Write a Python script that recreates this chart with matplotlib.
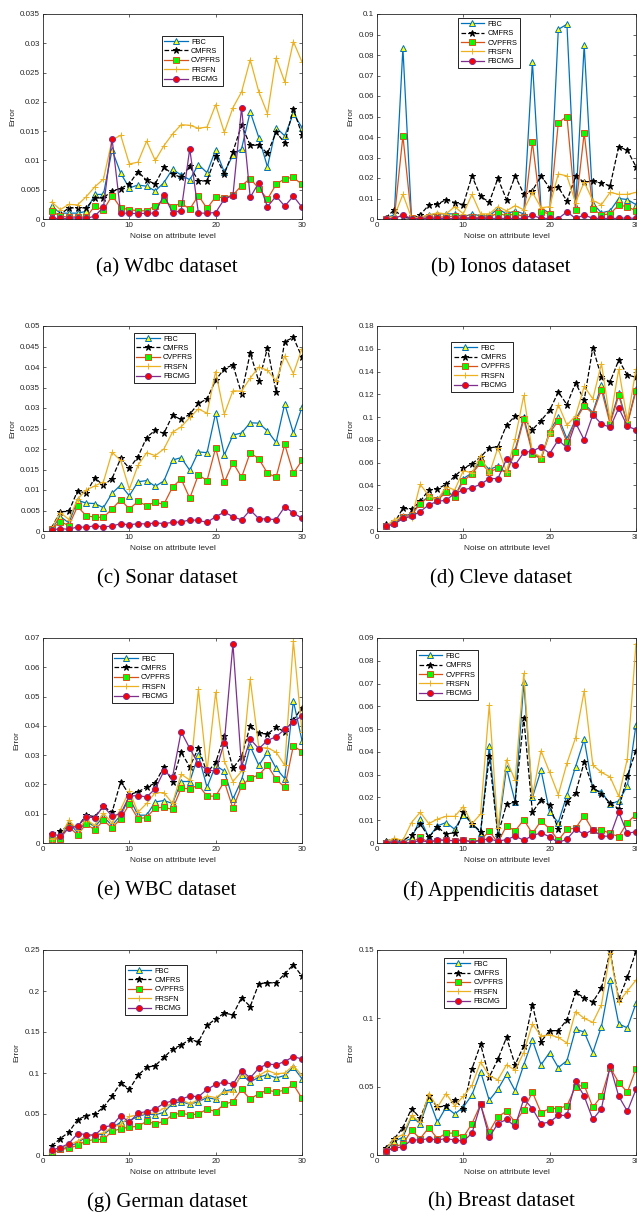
import numpy as np
import matplotlib
matplotlib.use('Agg')
import matplotlib.pyplot as plt
from matplotlib.ticker import FuncFormatter

# noise levels on the x axis
levels = np.arange(1, 31)
methods = ['FBC', 'CMFRS', 'CVPFRS', 'FRSFN', 'FBCMG']

# (a) Wdbc
wdbc_fbc = [0.0022, 0.001, 0.001, 0.001, 0.0013, 0.0042, 0.0042, 0.0118, 0.0078, 0.0053, 0.0058, 0.0056, 0.0048, 0.0062, 0.0085,
            0.0075, 0.0067, 0.0093, 0.0079, 0.0118, 0.008, 0.0109, 0.012, 0.0183, 0.0139, 0.0089, 0.0156, 0.0142, 0.018, 0.0156]
wdbc_cmfrs = [0.0012, 0.0008, 0.0019, 0.0019, 0.0019, 0.0036, 0.0036, 0.0048, 0.0052, 0.006, 0.0081, 0.0066, 0.006, 0.0088, 0.0077,
              0.0071, 0.009, 0.0065, 0.0065, 0.0107, 0.0077, 0.0115, 0.016, 0.0126, 0.0126, 0.0112, 0.0148, 0.013, 0.0188, 0.0144]
wdbc_cvpfrs = [0.0013, 0.0005, 0.0003, 0.0004, 0.0003, 0.0022, 0.0015, 0.004, 0.0019, 0.0016, 0.0014, 0.0014, 0.0023, 0.0032, 0.0021,
               0.0027, 0.0017, 0.004, 0.0018, 0.0038, 0.0036, 0.0041, 0.0057, 0.0069, 0.0052, 0.0034, 0.0059, 0.0069, 0.0071, 0.0059]
wdbc_frsfn = [0.0029, 0.0016, 0.0025, 0.0024, 0.0038, 0.0055, 0.0068, 0.0135, 0.0143, 0.0094, 0.0097, 0.0133, 0.01, 0.0125, 0.0145,
              0.0161, 0.016, 0.0155, 0.0157, 0.0195, 0.0148, 0.019, 0.0217, 0.0272, 0.0217, 0.018, 0.0275, 0.0234, 0.0303, 0.0268]
wdbc_fbcmg = [0.0001, 0.0001, 0.0001, 0.0002, 0.0001, 0.0005, 0.002, 0.0137, 0.001, 0.001, 0.0009, 0.001, 0.001, 0.0041, 0.0011,
              0.0014, 0.012, 0.001, 0.001, 0.0011, 0.0034, 0.004, 0.019, 0.0037, 0.0062, 0.0021, 0.0039, 0.0022, 0.0039, 0.002]

# (b) Ionos
ionos_fbc = [0.0005, 0.002, 0.0835, 0.0005, 0.0005, 0.002, 0.0025, 0.0025, 0.0025, 0.001, 0.0025, 0.0015, 0.0015, 0.005, 0.0025,
             0.004, 0.0025, 0.0767, 0.005, 0.003, 0.0925, 0.095, 0.006, 0.085, 0.0075, 0.003, 0.004, 0.01, 0.0095, 0.007]
ionos_cmfrs = [0.0005, 0.0045, 0.0008, 0.0003, 0.002, 0.0068, 0.0072, 0.0095, 0.008, 0.007, 0.021, 0.011, 0.0082, 0.0198, 0.0095,
               0.021, 0.0123, 0.0138, 0.021, 0.0152, 0.0155, 0.0088, 0.0208, 0.018, 0.0185, 0.0175, 0.0162, 0.0353, 0.0335, 0.0255]
ionos_cvpfrs = [0.0002, 0.0002, 0.0405, 0.0003, 0.0002, 0.0008, 0.001, 0.001, 0.0015, 0.0005, 0.0008, 0.0008, 0.0008, 0.003, 0.0015,
                0.0025, 0.0012, 0.0375, 0.0035, 0.0025, 0.047, 0.05, 0.0045, 0.042, 0.005, 0.002, 0.0025, 0.0068, 0.006, 0.004]
ionos_frsfn = [0.0005, 0.0012, 0.012, 0.0005, 0.0008, 0.002, 0.003, 0.0025, 0.006, 0.0025, 0.012, 0.0025, 0.0025, 0.006, 0.004,
               0.0065, 0.0045, 0.013, 0.0055, 0.006, 0.022, 0.021, 0.008, 0.018, 0.009, 0.007, 0.013, 0.012, 0.012, 0.013]
ionos_fbcmg = [0.0002, 0.0002, 0.002, 0.0002, 0.0002, 0.0003, 0.0003, 0.0003, 0.0003, 0.0003, 0.0003, 0.0003, 0.0003, 0.0003, 0.0003,
               0.0003, 0.0003, 0.0018, 0.0003, 0.0003, 0.0002, 0.0035, 0.0003, 0.002, 0.0003, 0.0003, 0.0003, 0.0003, 0.0005, 0.0003]

# (c) Sonar
sonar_fbc = [0.0005, 0.0035, 0.002, 0.0075, 0.0068, 0.0067, 0.0057, 0.0092, 0.0112, 0.0086, 0.012, 0.0123, 0.0109, 0.0122, 0.0173,
             0.0179, 0.0148, 0.0193, 0.0191, 0.0288, 0.0185, 0.0234, 0.0239, 0.0264, 0.0263, 0.0244, 0.0216, 0.031, 0.0239, 0.0302]
sonar_cmfrs = [0.0008, 0.0047, 0.0048, 0.0098, 0.0092, 0.013, 0.0111, 0.0128, 0.0177, 0.0153, 0.0181, 0.0228, 0.0246, 0.0238, 0.0282,
               0.0272, 0.0285, 0.0311, 0.0322, 0.0368, 0.0396, 0.0405, 0.0335, 0.0434, 0.0365, 0.0446, 0.034, 0.0462, 0.0472, 0.0424]
sonar_cvpfrs = [0.0005, 0.0023, 0.0013, 0.006, 0.0037, 0.0034, 0.0033, 0.0054, 0.0076, 0.0054, 0.0072, 0.0062, 0.007, 0.0065, 0.0107,
                0.0127, 0.008, 0.0137, 0.0123, 0.0203, 0.0119, 0.0167, 0.0131, 0.0191, 0.0176, 0.0141, 0.0131, 0.0211, 0.0141, 0.0172]
sonar_frsfn = [0.0005, 0.0045, 0.0028, 0.0078, 0.01, 0.011, 0.012, 0.0192, 0.0172, 0.0102, 0.016, 0.0191, 0.0184, 0.02, 0.0241,
               0.0254, 0.0277, 0.0298, 0.0287, 0.0389, 0.0285, 0.0342, 0.0341, 0.0373, 0.04, 0.0392, 0.0366, 0.0427, 0.0384, 0.0445]
sonar_fbcmg = [0.0002, 0.0006, 0.0004, 0.001, 0.0009, 0.0013, 0.001, 0.0012, 0.0018, 0.0015, 0.0018, 0.0017, 0.002, 0.0018, 0.0021,
               0.0022, 0.0027, 0.0026, 0.0021, 0.0035, 0.0046, 0.0035, 0.0027, 0.0051, 0.003, 0.0029, 0.0028, 0.0059, 0.0044, 0.0031]

# (d) Cleve
cleve_fbc = [0.004, 0.007, 0.013, 0.015, 0.025, 0.03, 0.028, 0.036, 0.03, 0.046, 0.051, 0.062, 0.054, 0.057, 0.051,
             0.071, 0.1, 0.07, 0.063, 0.088, 0.1, 0.081, 0.098, 0.112, 0.104, 0.128, 0.096, 0.121, 0.094, 0.125]
cleve_cmfrs = [0.006, 0.007, 0.02, 0.019, 0.026, 0.036, 0.037, 0.041, 0.048, 0.055, 0.059, 0.065, 0.073, 0.074, 0.093,
               0.101, 0.099, 0.089, 0.097, 0.106, 0.122, 0.111, 0.13, 0.115, 0.161, 0.135, 0.131, 0.15, 0.137, 0.135]
cleve_cvpfrs = [0.004, 0.007, 0.012, 0.014, 0.024, 0.03, 0.027, 0.034, 0.03, 0.044, 0.05, 0.06, 0.052, 0.055, 0.051,
                0.069, 0.098, 0.068, 0.063, 0.086, 0.097, 0.078, 0.097, 0.11, 0.103, 0.124, 0.094, 0.119, 0.094, 0.123]
cleve_frsfn = [0.004, 0.01, 0.013, 0.011, 0.041, 0.031, 0.027, 0.039, 0.036, 0.053, 0.051, 0.066, 0.05, 0.073, 0.052,
               0.081, 0.119, 0.069, 0.065, 0.086, 0.111, 0.093, 0.101, 0.127, 0.116, 0.147, 0.097, 0.142, 0.097, 0.142]
cleve_fbcmg = [0.004, 0.006, 0.011, 0.013, 0.017, 0.023, 0.026, 0.027, 0.033, 0.036, 0.038, 0.041, 0.046, 0.046, 0.063,
               0.058, 0.069, 0.07, 0.074, 0.068, 0.08, 0.073, 0.095, 0.08, 0.102, 0.094, 0.091, 0.108, 0.092, 0.089]

# (e) WBC
wbc_fbc = [0.0015, 0.002, 0.007, 0.0035, 0.0075, 0.0055, 0.009, 0.006, 0.0095, 0.0155, 0.0095, 0.0095, 0.014, 0.0145, 0.0135,
           0.021, 0.021, 0.03, 0.019, 0.0265, 0.0245, 0.015, 0.0215, 0.033, 0.0265, 0.031, 0.0255, 0.022, 0.0485, 0.035]
wbc_cmfrs = [0.003, 0.004, 0.006, 0.0055, 0.0095, 0.009, 0.0125, 0.0105, 0.021, 0.0165, 0.0175, 0.019, 0.0205, 0.026, 0.021,
             0.031, 0.026, 0.0325, 0.024, 0.0275, 0.0365, 0.0255, 0.0295, 0.04, 0.0375, 0.0372, 0.0395, 0.038, 0.042, 0.0462]
wbc_cvpfrs = [0.0013, 0.0015, 0.0055, 0.0028, 0.0065, 0.0045, 0.0077, 0.0052, 0.0083, 0.0133, 0.0083, 0.0087, 0.012, 0.0122, 0.0115,
              0.0187, 0.0185, 0.0198, 0.016, 0.016, 0.021, 0.0118, 0.0195, 0.0222, 0.0232, 0.0265, 0.0218, 0.019, 0.0332, 0.0312]
wbc_frsfn = [0.0015, 0.002, 0.0078, 0.0045, 0.008, 0.006, 0.0102, 0.0068, 0.0115, 0.0178, 0.0105, 0.0135, 0.0172, 0.0172, 0.0135,
             0.0235, 0.0215, 0.0525, 0.0245, 0.0515, 0.028, 0.021, 0.0245, 0.056, 0.0325, 0.0325, 0.031, 0.0265, 0.069, 0.038]
wbc_fbcmg = [0.003, 0.0025, 0.005, 0.0058, 0.0088, 0.0087, 0.0125, 0.0092, 0.01, 0.016, 0.0162, 0.0157, 0.0185, 0.0245, 0.0225,
             0.038, 0.0323, 0.027, 0.025, 0.0245, 0.0343, 0.068, 0.026, 0.0355, 0.0322, 0.035, 0.0363, 0.0388, 0.0413, 0.0435]

# (f) Appendicitis
app_fbc = [0.0005, 0.001, 0.0005, 0.002, 0.0105, 0.0025, 0.0075, 0.009, 0.006, 0.0125, 0.0085, 0.0045, 0.0425, 0.0045, 0.033,
           0.018, 0.0705, 0.02, 0.032, 0.0135, 0.009, 0.021, 0.0335, 0.0455, 0.0235, 0.0225, 0.017, 0.0185, 0.025, 0.052]
app_cmfrs = [0.001, 0.0015, 0.001, 0.0035, 0.0085, 0.0025, 0.007, 0.004, 0.0045, 0.0135, 0.0085, 0.005, 0.038, 0.0035, 0.017,
             0.018, 0.055, 0.0135, 0.019, 0.0165, 0.006, 0.018, 0.022, 0.0355, 0.0245, 0.0215, 0.0175, 0.015, 0.0295, 0.0405]
app_cvpfrs = [0.0002, 0.0002, 0.0002, 0.0002, 0.0025, 0.0002, 0.001, 0.0012, 0.001, 0.0012, 0.0008, 0.0012, 0.0052, 0.0002, 0.0075,
              0.0053, 0.0102, 0.0042, 0.0097, 0.0062, 0.0012, 0.006, 0.0065, 0.012, 0.0055, 0.0058, 0.0042, 0.0028, 0.009, 0.0125]
app_frsfn = [0.0005, 0.002, 0.0012, 0.009, 0.0135, 0.0085, 0.0105, 0.0117, 0.0117, 0.016, 0.0085, 0.0127, 0.0605, 0.0065, 0.0365,
             0.0275, 0.0745, 0.0205, 0.0405, 0.031, 0.0212, 0.035, 0.0462, 0.0668, 0.0342, 0.031, 0.029, 0.0205, 0.037, 0.0875]
app_fbcmg = [0.0001, 0.0002, 0.0001, 0.0001, 0.0012, 0.0003, 0.0015, 0.0012, 0.001, 0.0015, 0.0002, 0.0012, 0.0018, 0.0008, 0.0015,
             0.003, 0.0012, 0.0032, 0.0045, 0.0027, 0.0002, 0.0017, 0.006, 0.0038, 0.0058, 0.003, 0.003, 0.0135, 0.0042, 0.005]

# (g) German
german_fbc = [0.002, 0.007, 0.01, 0.015, 0.022, 0.025, 0.025, 0.033, 0.04, 0.042, 0.047, 0.05, 0.049, 0.052, 0.063,
              0.065, 0.062, 0.065, 0.07, 0.068, 0.078, 0.08, 0.098, 0.089, 0.095, 0.098, 0.094, 0.097, 0.107, 0.093]
german_cmfrs = [0.011, 0.02, 0.028, 0.043, 0.048, 0.05, 0.058, 0.072, 0.088, 0.08, 0.097, 0.107, 0.109, 0.119, 0.129,
                0.134, 0.141, 0.138, 0.158, 0.166, 0.173, 0.171, 0.192, 0.181, 0.209, 0.21, 0.21, 0.221, 0.232, 0.218]
german_cvpfrs = [0.001, 0.007, 0.008, 0.012, 0.017, 0.019, 0.019, 0.029, 0.032, 0.034, 0.035, 0.041, 0.038, 0.041, 0.049,
                 0.051, 0.049, 0.05, 0.056, 0.053, 0.062, 0.065, 0.08, 0.068, 0.075, 0.079, 0.077, 0.079, 0.086, 0.069]
german_frsfn = [0.003, 0.008, 0.012, 0.017, 0.023, 0.025, 0.027, 0.034, 0.037, 0.047, 0.049, 0.051, 0.051, 0.057, 0.064,
                0.067, 0.063, 0.067, 0.072, 0.07, 0.077, 0.077, 0.1, 0.092, 0.097, 0.103, 0.099, 0.1, 0.109, 0.097]
german_fbcmg = [0.006, 0.009, 0.014, 0.026, 0.025, 0.024, 0.034, 0.036, 0.048, 0.04, 0.051, 0.053, 0.056, 0.063, 0.066,
                0.068, 0.072, 0.071, 0.08, 0.086, 0.089, 0.086, 0.103, 0.094, 0.106, 0.111, 0.11, 0.114, 0.12, 0.117]

# (h) Breast
breast_fbc = [0.003, 0.01, 0.013, 0.028, 0.023, 0.041, 0.024, 0.035, 0.03, 0.035, 0.044, 0.061, 0.04, 0.048, 0.059,
              0.047, 0.066, 0.084, 0.066, 0.075, 0.064, 0.069, 0.092, 0.09, 0.075, 0.094, 0.128, 0.096, 0.093, 0.111]
breast_cmfrs = [0.005, 0.012, 0.02, 0.034, 0.027, 0.043, 0.035, 0.036, 0.04, 0.034, 0.063, 0.081, 0.057, 0.07, 0.086,
                0.066, 0.08, 0.11, 0.083, 0.091, 0.091, 0.099, 0.119, 0.115, 0.112, 0.122, 0.149, 0.114, 0.13, 0.149]
breast_cvpfrs = [0.003, 0.006, 0.008, 0.018, 0.012, 0.02, 0.012, 0.016, 0.016, 0.013, 0.023, 0.037, 0.017, 0.028, 0.032,
                 0.024, 0.033, 0.046, 0.031, 0.034, 0.034, 0.036, 0.05, 0.051, 0.035, 0.043, 0.064, 0.053, 0.046, 0.063]
breast_frsfn = [0.004, 0.012, 0.015, 0.029, 0.024, 0.045, 0.035, 0.045, 0.036, 0.043, 0.051, 0.068, 0.058, 0.055, 0.066,
                0.062, 0.075, 0.096, 0.087, 0.088, 0.086, 0.082, 0.105, 0.1, 0.097, 0.11, 0.148, 0.112, 0.12, 0.128]
breast_fbcmg = [0.003, 0.005, 0.006, 0.011, 0.011, 0.012, 0.011, 0.012, 0.011, 0.01, 0.016, 0.037, 0.013, 0.023, 0.026,
                0.021, 0.041, 0.034, 0.023, 0.024, 0.029, 0.029, 0.054, 0.043, 0.026, 0.034, 0.065, 0.043, 0.032, 0.048]

captions = ['(a) Wdbc dataset', '(b) Ionos dataset', '(c) Sonar dataset', '(d) Cleve dataset',
            '(e) WBC dataset', '(f) Appendicitis dataset', '(g) German dataset', '(h) Breast dataset']
ymax = [0.035, 0.1, 0.05, 0.18, 0.07, 0.09, 0.25, 0.15]
ystep = [0.005, 0.01, 0.005, 0.02, 0.01, 0.01, 0.05, 0.05]
series = [
    [wdbc_fbc, wdbc_cmfrs, wdbc_cvpfrs, wdbc_frsfn, wdbc_fbcmg],
    [ionos_fbc, ionos_cmfrs, ionos_cvpfrs, ionos_frsfn, ionos_fbcmg],
    [sonar_fbc, sonar_cmfrs, sonar_cvpfrs, sonar_frsfn, sonar_fbcmg],
    [cleve_fbc, cleve_cmfrs, cleve_cvpfrs, cleve_frsfn, cleve_fbcmg],
    [wbc_fbc, wbc_cmfrs, wbc_cvpfrs, wbc_frsfn, wbc_fbcmg],
    [app_fbc, app_cmfrs, app_cvpfrs, app_frsfn, app_fbcmg],
    [german_fbc, german_cmfrs, german_cvpfrs, german_frsfn, german_fbcmg],
    [breast_fbc, breast_cmfrs, breast_cvpfrs, breast_frsfn, breast_fbcmg],
]

# line styles, matlab default palette
styles = [
    dict(color='#0072BD', ls='-', marker='^', mfc='#FFFF00', mec='#0072BD', ms=4.4),
    dict(color='black', ls='--', marker='*', mfc='black', mec='black', ms=4.8),
    dict(color='#D95319', ls='-', marker='s', mfc='#00FF00', mec='#D95319', ms=3.8),
    dict(color='#EDB120', ls='-', marker='+', mfc='#EDB120', mec='#EDB120', ms=4.6),
    dict(color='#7E2F8E', ls='-', marker='o', mfc='#FF0000', mec='#7E2F8E', ms=4.3),
]
# legend upper-left corner, axes fraction
legend_pos = [(0.459, 0.893), (0.313, 0.98), (0.351, 0.966), (0.286, 0.922),
              (0.266, 0.927), (0.151, 0.941), (0.317, 0.927), (0.259, 0.961)]

W, H = 637, 1214
col_left = [43, 377]
row_top = [14, 326, 638, 950]
ax_w, ax_h = 259, 205
cap_x = [167, 501]
cap_y = [268, 579, 891, 1202]

fig = plt.figure(figsize=(W / 100, H / 100), dpi=100)
gray = '#262626'
fmt = FuncFormatter(lambda v, p: '%g' % round(v, 6))

for i in range(8):
    r, c = i // 2, i % 2
    ax = fig.add_axes([col_left[c] / W, (H - row_top[r] - ax_h) / H, ax_w / W, ax_h / H])
    for s, st, name in zip(series[i], styles, methods):
        ax.plot(levels, s, lw=0.9, mew=0.7, label=name, **st)
    ax.set_xlim(0, 30)
    ax.set_ylim(0, ymax[i])
    ax.set_xticks([0, 10, 20, 30])
    ax.set_yticks(np.arange(0, ymax[i] + ystep[i] / 2, ystep[i]))
    ax.yaxis.set_major_formatter(fmt)
    ax.tick_params(direction='in', length=2.5, width=0.5, labelsize=5.8, colors=gray,
                   top=True, right=True, pad=2)
    for sp in ax.spines.values():
        sp.set_linewidth(0.6)
        sp.set_color(gray)
    ax.set_xlabel('Noise on attribute level', fontsize=6, color=gray, labelpad=3,
                  family='Liberation Sans')
    ax.set_ylabel('Error', fontsize=6, color=gray, labelpad=3, family='Liberation Sans')
    for lab in ax.get_xticklabels() + ax.get_yticklabels():
        lab.set_family('Liberation Sans')
    leg = ax.legend(loc='upper left', bbox_to_anchor=legend_pos[i],
                    prop={'family': 'Liberation Sans', 'size': 5.3},
                    handlelength=3.2, handletextpad=0.4, labelspacing=0.3,
                    borderpad=0.35, borderaxespad=0, fancybox=False, framealpha=1)
    leg.get_frame().set_edgecolor('black')
    leg.get_frame().set_linewidth(0.6)
    fig.text(cap_x[c] / W, 1 - cap_y[r] / H, captions[i], ha='center', va='center',
             fontsize=15, family='Liberation Serif')

fig.savefig('out.png', dpi=100)
